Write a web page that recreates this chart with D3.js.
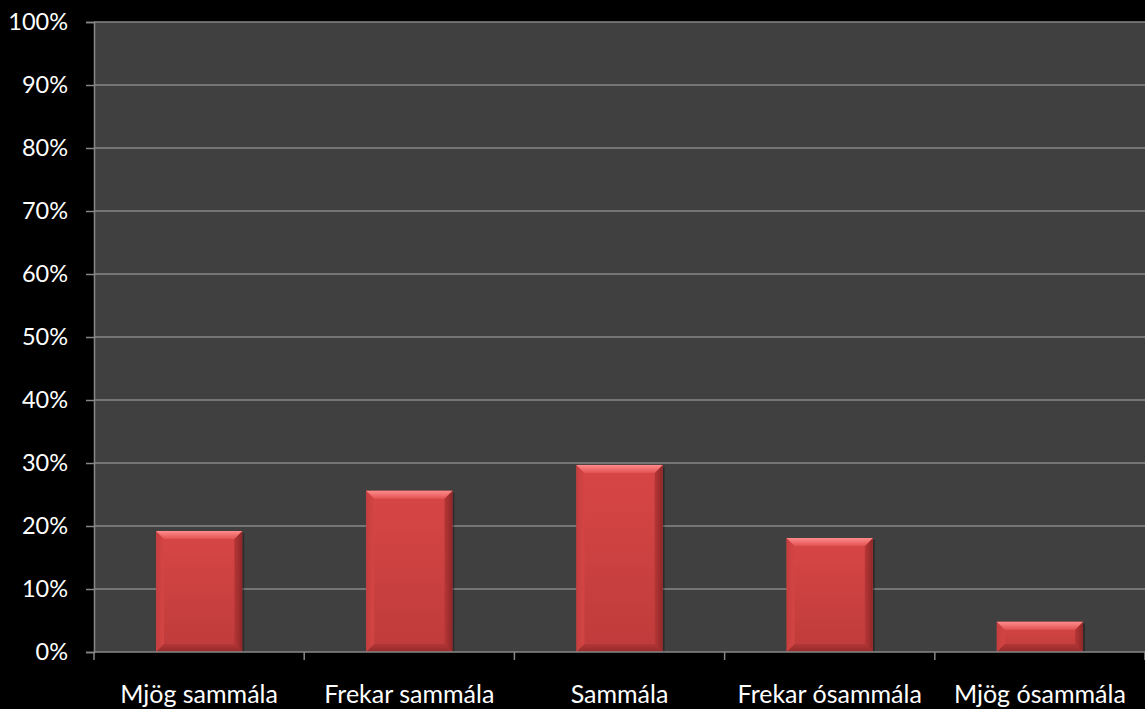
<!DOCTYPE html>
<html>
<head>
<meta charset="utf-8">
<script src="https://cdn.jsdelivr.net/npm/d3@7"></script>
<style>
  html, body { margin: 0; padding: 0; background: #000; }
  svg { display: block; }
  text { font-family: Lato, "Open Sans", sans-serif; fill: #fff; }
</style>
</head>
<body>
<svg id="chart" width="1145" height="709"></svg>
<script>
// Response categories and share of answers (fraction of 1)
const categories = ["Mjög sammála", "Frekar sammála", "Sammála", "Frekar ósammála", "Mjög ósammála"];
const values = [0.192, 0.256, 0.297, 0.181, 0.048];
const yTicks = [0, 0.1, 0.2, 0.3, 0.4, 0.5, 0.6, 0.7, 0.8, 0.9, 1.0];

const W = 1145, H = 709;
const margin = { top: 22, right: 0, bottom: 57, left: 94 };
const svg = d3.select("#chart");

const x = d3.scaleBand().domain(categories)
  .range([margin.left, W - margin.right])
  .paddingInner(0.59).paddingOuter(0.295);
const y = d3.scaleLinear().domain([0, 1]).range([H - margin.bottom, margin.top]);

// Plot background
svg.append("rect")
  .attr("x", margin.left).attr("y", margin.top)
  .attr("width", W - margin.right - margin.left)
  .attr("height", y(0) - margin.top)
  .attr("fill", "#404040");

// Horizontal gridlines
svg.append("g").selectAll("line").data(yTicks.slice(1)).join("line")
  .attr("x1", margin.left).attr("x2", W)
  .attr("y1", d => y(d)).attr("y2", d => y(d))
  .attr("stroke", "#878787").attr("stroke-width", 1.5);

// Gradients for bar face and bevels
const defs = svg.append("defs");
const face = defs.append("linearGradient").attr("id", "face")
  .attr("x1", 0).attr("y1", 0).attr("x2", 0).attr("y2", 1);
face.append("stop").attr("offset", "0%").attr("stop-color", "#d84646");
face.append("stop").attr("offset", "100%").attr("stop-color", "#bf3b3b");
const topG = defs.append("linearGradient").attr("id", "bevTop")
  .attr("x1", 0).attr("y1", 0).attr("x2", 0).attr("y2", 1);
topG.append("stop").attr("offset", "0%").attr("stop-color", "#ff8c8c");
topG.append("stop").attr("offset", "100%").attr("stop-color", "#e25252");
const rightG = defs.append("linearGradient").attr("id", "bevRight")
  .attr("x1", 0).attr("y1", 0).attr("x2", 1).attr("y2", 0);
rightG.append("stop").attr("offset", "0%").attr("stop-color", "#b83636");
rightG.append("stop").attr("offset", "100%").attr("stop-color", "#8e2828");
const leftG = defs.append("linearGradient").attr("id", "bevLeft")
  .attr("x1", 0).attr("y1", 0).attr("x2", 1).attr("y2", 0);
leftG.append("stop").attr("offset", "0%").attr("stop-color", "#c63e3e");
leftG.append("stop").attr("offset", "100%").attr("stop-color", "#d44545");
const botG = defs.append("linearGradient").attr("id", "bevBot")
  .attr("x1", 0).attr("y1", 0).attr("x2", 0).attr("y2", 1);
botG.append("stop").attr("offset", "0%").attr("stop-color", "#b23636");
botG.append("stop").attr("offset", "100%").attr("stop-color", "#942a2a");

// Bars with bevelled edges
const bevel = 8;
const bars = svg.append("g").selectAll("g").data(categories).join("g");
bars.each(function(c, i) {
  const g = d3.select(this);
  const x0 = x(c), x1 = x(c) + x.bandwidth();
  const y0 = y(values[i]), y1 = y(0);
  const b = Math.min(bevel, (y1 - y0) / 2);
  // soft shadow
  g.append("rect").attr("x", x0 + 2).attr("y", y0 + 2)
    .attr("width", x1 - x0).attr("height", y1 - y0 - 2)
    .attr("fill", "#000").attr("opacity", 0.3);
  g.append("rect").attr("x", x0).attr("y", y0)
    .attr("width", x1 - x0).attr("height", y1 - y0)
    .attr("fill", "url(#face)");
  const poly = (pts, fill) => g.append("polygon")
    .attr("points", pts.map(p => p.join(",")).join(" "))
    .attr("fill", fill);
  poly([[x0, y0], [x0 + b, y0 + b], [x0 + b, y1 - b], [x0, y1]], "url(#bevLeft)");
  poly([[x1, y0], [x1, y1], [x1 - b, y1 - b], [x1 - b, y0 + b]], "url(#bevRight)");
  poly([[x0, y1], [x0 + b, y1 - b], [x1 - b, y1 - b], [x1, y1]], "url(#bevBot)");
  poly([[x0, y0], [x1, y0], [x1 - b, y0 + b], [x0 + b, y0 + b]], "url(#bevTop)");
});

// Y axis
const yAxis = svg.append("g").attr("transform", `translate(${margin.left},0)`)
  .call(d3.axisLeft(y).tickValues(yTicks).tickFormat(d3.format(".0%")).tickSize(8).tickPadding(18));
yAxis.select(".domain").attr("stroke", "#878787").attr("stroke-width", 1.5);
yAxis.selectAll(".tick line").attr("stroke", "#878787").attr("stroke-width", 1.5);
yAxis.selectAll(".tick text").attr("font-size", 23.5).attr("fill", "#fff")
  .style("font-family", "Lato, 'Open Sans', sans-serif");

// X axis: category boundaries
const bounds = categories.map(c => x(c) - (x.step() - x.bandwidth()) / 2).concat([W]);
svg.append("line").attr("x1", margin.left).attr("x2", W)
  .attr("y1", y(0)).attr("y2", y(0)).attr("stroke", "#878787").attr("stroke-width", 1.5);
svg.append("g").selectAll("line").data(bounds).join("line")
  .attr("x1", d => d).attr("x2", d => d)
  .attr("y1", y(0)).attr("y2", y(0) + 8)
  .attr("stroke", "#878787").attr("stroke-width", 1.5);

svg.append("g").selectAll("text").data(categories).join("text")
  .attr("x", c => x(c) + x.bandwidth() / 2)
  .attr("y", 703)
  .attr("text-anchor", "middle")
  .attr("font-size", 25)
  .text(c => c);
</script>
</body>
</html>
